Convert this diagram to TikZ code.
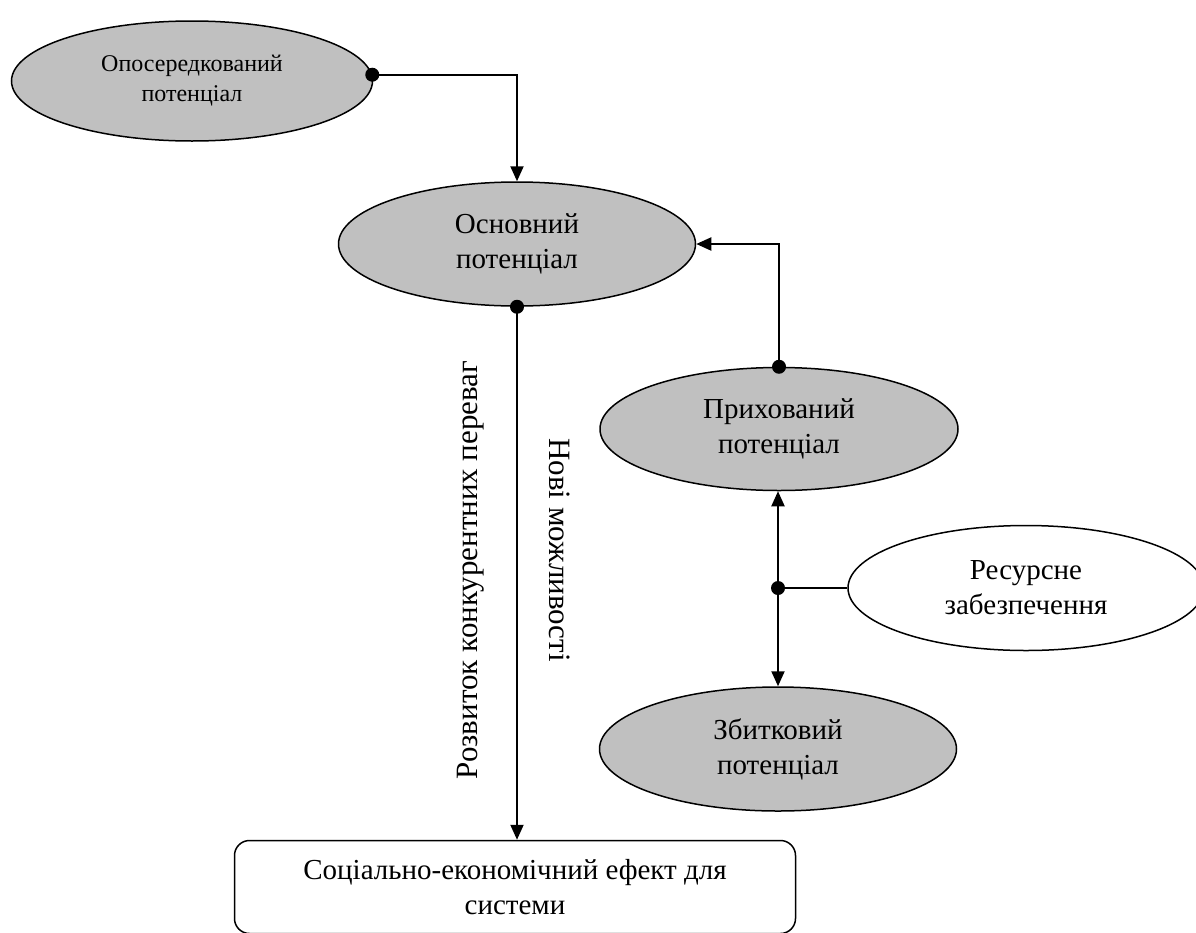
\documentclass[tikz,border=0pt]{standalone}
\usepackage{fontspec}
\setmainfont{Liberation Serif}
\usetikzlibrary{arrows.meta,shapes.geometric}
\definecolor{silver}{RGB}{192,192,192}
\begin{document}
\begin{tikzpicture}[x=1pt,y=-1pt,
  ell/.style={ellipse, draw, line width=1.5pt, fill=silver, inner sep=0pt, align=center, font=\fontsize{29}{35}\selectfont},
  conn/.style={line width=2pt},
  arr/.style={conn, -{Triangle[length=15pt,width=13pt]}},
  dot/.style={circle, fill=black, minimum size=14pt, inner sep=0pt},
  lbl/.style={font=\fontsize{31}{36}\selectfont, inner sep=0pt}]
\useasboundingbox (0,0) rectangle (1196,932);
\node[ell, minimum width=361pt, minimum height=120pt, font=\fontsize{24}{30}\selectfont] (e1) at (192,81) {Опосередкований\\потенціал};
\node[ell, minimum width=357pt, minimum height=124pt] (e2) at (517,244) {Основний\\потенціал};
\node[ell, minimum width=358pt, minimum height=123pt] (e3) at (779,429) {Прихований\\потенціал};
\node[ell, fill=white, minimum width=356pt, minimum height=125pt] (e4) at (1026,588) {Ресурсне\\забезпечення};
\node[ell, minimum width=357pt, minimum height=124pt] (e5) at (778,749) {Збитковий\\потенціал};
\node[draw, rounded corners=15pt, line width=1.5pt, minimum width=561pt, minimum height=93pt, align=center, font=\fontsize{29}{35}\selectfont] (box) at (515,887) {Соціально-економічний ефект для\\системи};
\node[lbl, rotate=90] (l1) at (471,570) {Розвиток конкурентних переваг};
\node[lbl, rotate=-90] (l2) at (560,550) {Нові можливості};
\draw[arr] (e1.2) -| (e2.north);
\node[dot] at (e1.2) {};
\draw[arr] (e2.south) -- (e2.south |- box.north);
\node[dot] at (e2.south) {};
\draw[arr] (e3.north) |- (e2.east);
\node[dot] at (e3.north) {};
\coordinate (j) at (778,588);
\draw[arr] (j) -- (j |- e3.south);
\draw[arr] (j) -- (j |- e5.north);
\draw[conn] (j) -- (e4.west);
\node[dot] at (j) {};
\end{tikzpicture}
\end{document}
